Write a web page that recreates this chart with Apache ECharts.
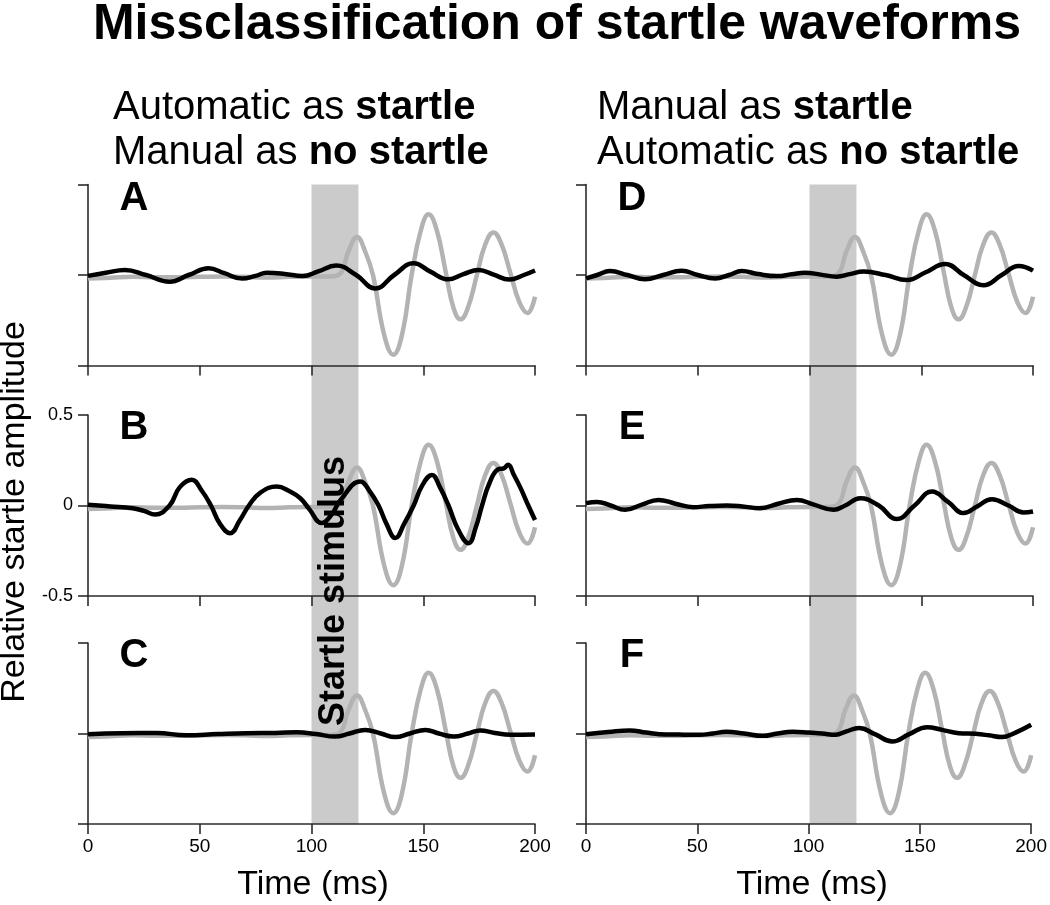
<!DOCTYPE html>
<html><head><meta charset="utf-8">
<script src="https://cdn.jsdelivr.net/npm/echarts@6/dist/echarts.min.js"></script>
<style>html,body{margin:0;padding:0;background:#fff}#c{width:1050px;height:905px}</style>
</head><body><div id="c"></div>
<script>
// ---- data ----
const xTicks = [0, 50, 100, 150, 200];
const yTicks = [-0.5, 0, 0.5];
const stimulusWindow = [100, 121];
const panelLetters = ['A', 'B', 'C', 'D', 'E', 'F'];

// mean startle waveform (grey), same in every panel
const meanStartle = [[0,-0.02],[10,-0.015],[20,-0.01],[30,-0.012],[40,-0.012],[50,-0.01],[60,-0.008],[70,-0.01],[80,-0.014],[90,-0.01],[100,-0.008],[108,-0.008],[113,0.01],[116.5,0.13],[120.4,0.21],[124,0.13],[127.5,0],[132.5,-0.33],[136.6,-0.44],[140.5,-0.33],[144.8,0],[149,0.25],[152.4,0.335],[156,0.25],[160,0.02],[163.5,-0.18],[166.7,-0.245],[170,-0.18],[174,0],[177.5,0.16],[181.4,0.235],[185,0.17],[189,0.01],[193,-0.15],[196.6,-0.21],[200,-0.12]];

const blackA = [[0,-0.005],[8,0.012],[16.5,0.028],[26,0],[36.5,-0.037],[45,0],[54,0.037],[61,0.01],[69,-0.02],[75,-0.005],[80,0.012],[88,0.006],[96,-0.006],[103,0.02],[111,0.052],[120,0],[128.5,-0.074],[137,0],[145.7,0.065],[153,0.02],[161.3,-0.024],[168,0.005],[174.8,0.028],[181.5,0.002],[188.5,-0.025],[195,0],[200,0.025]];
const blackB = [[0,0.004],[10,-0.005],[20,-0.015],[25,-0.03],[30,-0.05],[36.5,0],[41,0.1],[46.4,0.142],[51,0.08],[55,0],[59,-0.1],[63.6,-0.153],[68,-0.08],[72,0],[77,0.07],[84.5,0.105],[90,0.08],[95,0.04],[99,-0.02],[104.6,-0.097],[109,-0.05],[113,0.03],[121.8,0.132],[126,0.08],[130,0],[133.5,-0.1],[137.5,-0.18],[141.5,-0.1],[145.7,0],[149.5,0.11],[153.9,0.169],[157.5,0.1],[161.3,0],[165.5,-0.13],[170.3,-0.208],[173.5,-0.12],[176.3,0],[179.5,0.12],[183.5,0.2],[186,0.205],[188,0.225],[190.5,0.17],[193.4,0.1],[197,0],[200,-0.08]];
const blackC = [[0,-0.004],[15,0.002],[30.7,0.003],[44,-0.01],[58,-0.003],[71,0.002],[84,0.003],[93.4,0.007],[102,-0.003],[110.6,-0.017],[117,0],[124,0.02],[131,0],[137.5,-0.02],[144,0],[151,0.02],[157,0],[163.6,-0.017],[170,0],[175.5,0.017],[182,0.003],[189,-0.007],[200,-0.005]];
const blackD = [[0,-0.019],[5,0],[10.7,0.022],[18.5,0],[26.4,-0.024],[34.5,0],[42.8,0.024],[50,0],[57.8,-0.019],[64,0],[69.7,0.022],[77,0.005],[85.4,-0.006],[92,0.004],[98,0.013],[105,0.002],[112.2,-0.009],[118,0.005],[124.2,0.019],[134,0],[143.6,-0.028],[152,0.015],[160.7,0.061],[169,0],[177.9,-0.056],[186,0],[193.6,0.05],[200,0.024]];
const blackE = [[0,0.013],[5,0.02],[11,0],[17.5,-0.024],[25,0.005],[32.4,0.031],[40,0.01],[48,-0.009],[55,-0.003],[63,0],[70,-0.005],[77.9,-0.015],[86,0.01],[94.3,0.031],[102,0.005],[110.7,-0.024],[116,0],[122.7,0.04],[131,0],[139,-0.075],[147,0],[154.8,0.077],[162,0.02],[169,-0.042],[175,-0.005],[181.6,0.035],[189,0],[195.8,-0.039],[200,-0.033]];
const blackF = [[0,-0.004],[10,0.008],[19.7,0.017],[27,0.005],[33,-0.004],[42,-0.006],[51,-0.007],[57,0],[63,0.009],[71,0],[79.4,-0.013],[86,0],[92.8,0.009],[100,0.005],[106,0],[112.2,-0.007],[117,0.012],[122.7,0.03],[130,-0.005],[137.6,-0.044],[145,-0.005],[153.3,0.035],[160,0.02],[167.5,0.002],[175,-0.002],[181,-0.01],[186.9,-0.02],[193,0.005],[200,0.048]];
const blackSeries = [blackA, blackB, blackC, blackD, blackE, blackF];

// ---- layout ----
const FONT = '"Liberation Sans", Arial, sans-serif';
const colLeft = [88, 586];
const colWidth = 447;
const rowTop = [184.5, 415, 643];
const rowHeight = 181;
const axisColor = '#2b2b2b';

const grid = [], xAxis = [], yAxis = [], series = [];
for (let i = 0; i < 6; i++) {
  const col = Math.floor(i / 3), row = i % 3;
  grid.push({left: colLeft[col], top: rowTop[row], width: colWidth, height: rowHeight, containLabel: false});
  xAxis.push({
    gridIndex: i, type: 'value', min: xTicks[0], max: xTicks[xTicks.length - 1], interval: xTicks[1] - xTicks[0], z: 3,
    axisLine: {show: true, onZero: false, lineStyle: {color: axisColor, width: 1.6}},
    axisTick: {show: true, length: 10, lineStyle: {color: axisColor, width: 1.6}},
    axisLabel: {show: row === 2, fontSize: 19, color: '#000', margin: 13, fontFamily: FONT},
    splitLine: {show: false}
  });
  yAxis.push({
    gridIndex: i, type: 'value', min: yTicks[0], max: yTicks[yTicks.length - 1], interval: yTicks[1] - yTicks[0], z: 3,
    axisLine: {show: true, onZero: false, lineStyle: {color: axisColor, width: 1.6}},
    axisTick: {show: true, length: 10, lineStyle: {color: axisColor, width: 1.6}},
    axisLabel: {show: i === 1, fontSize: 18, color: '#000', margin: 15, fontFamily: FONT},
    splitLine: {show: false}
  });
  series.push({
    type: 'line', xAxisIndex: i, yAxisIndex: i, data: meanStartle, smooth: 0.45,
    symbol: 'none', lineStyle: {color: '#b3b3b3', width: 4.5}, z: 4, silent: true
  });
  series.push({
    type: 'line', xAxisIndex: i, yAxisIndex: i, data: blackSeries[i], smooth: 0.45,
    symbol: 'none', lineStyle: {color: '#000', width: 4.5}, z: 5, silent: true
  });
}
// stimulus band spanning whole column
for (let c = 0; c < 2; c++) {
  const gi = grid.length;
  grid.push({left: colLeft[c], top: rowTop[0], width: colWidth, height: rowTop[2] + rowHeight - rowTop[0]});
  xAxis.push({gridIndex: gi, type: 'value', min: 0, max: 200, show: false});
  yAxis.push({gridIndex: gi, type: 'value', min: 0, max: 1, show: false});
  series.push({
    type: 'line', xAxisIndex: gi, yAxisIndex: gi, data: [[0, 0]], symbol: 'none', lineStyle: {opacity: 0}, z: 1, silent: true,
    markArea: {silent: true, itemStyle: {color: '#cbcbcb'}, data: [[{xAxis: stimulusWindow[0]}, {xAxis: stimulusWindow[1]}]]}
  });
}

function txt(x, y, text, size, weight, align, rot) {
  return {
    type: 'text', x: x, y: y, rotation: rot || 0, z: 10,
    style: {text: text, fontSize: size, fontWeight: weight || 'normal', fontFamily: FONT, fill: '#000',
      align: align || 'center', textAlign: align || 'center', verticalAlign: 'middle', textVerticalAlign: 'middle'}
  };
}
function richTxt(x, y, plain, bold) {
  return {
    type: 'text', x: x, y: y, z: 10,
    style: {text: plain + '{b|' + bold + '}', fontSize: 40, fontFamily: FONT, fill: '#000',
      align: 'left', textAlign: 'left', verticalAlign: 'middle', textVerticalAlign: 'middle',
      rich: {b: {fontSize: 40, fontWeight: 'bold', fontFamily: FONT, fill: '#000'}}}
  };
}
const graphic = [
  txt(557, 25, 'Missclassification of startle waveforms', 50, 'bold'),
  richTxt(113, 108, 'Automatic as ', 'startle'),
  richTxt(113, 153, 'Manual as ', 'no startle'),
  richTxt(597, 108, 'Manual as ', 'startle'),
  richTxt(597, 153, 'Automatic as ', 'no startle'),
  txt(15, 512, 'Relative startle amplitude', 34, 'normal', 'center', Math.PI / 2),
  txt(313, 885, 'Time (ms)', 34),
  txt(812, 885, 'Time (ms)', 34),
  txt(334, 591, 'Startle stimulus', 36, 'bold', 'center', Math.PI / 2)
];
const letterPos = [[134, 199], [134, 428], [134, 656], [632, 199], [632, 428], [632, 656]];
panelLetters.forEach((L, i) => graphic.push(txt(letterPos[i][0], letterPos[i][1], L, 40, 'bold')));

const chart = echarts.init(document.getElementById('c'), null, {renderer: 'canvas'});
chart.setOption({animation: false, backgroundColor: '#fff', grid, xAxis, yAxis, series, graphic});
</script></body></html>
